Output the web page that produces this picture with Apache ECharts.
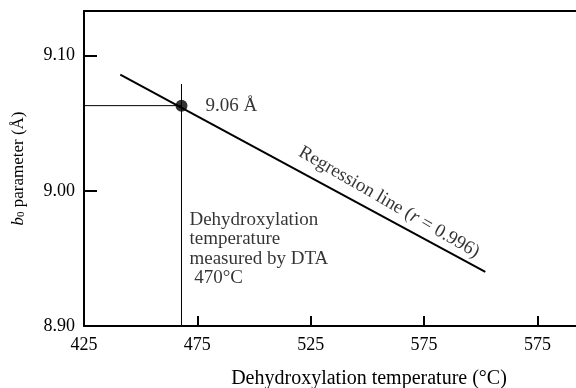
<!DOCTYPE html>
<html>
<head>
<meta charset="utf-8">
<script src="https://cdn.jsdelivr.net/npm/echarts@6/dist/echarts.min.js"></script>
<style>
  html, body { margin: 0; padding: 0; background: #fff; }
  #chart { width: 576px; height: 388px; }
</style>
</head>
<body>
<div id="chart"></div>
<script>
// tick labels as printed (last one really reads 575 in the figure)
const xTickLabels = ["425", "475", "525", "575", "575"]
const yTickLabels = ["8.90", "9.00", "9.10"]

// regression line end points (temperature, b0)
const regressionX = [441, 602]
const regressionY = [9.086, 8.94]

// DTA point
const dtaTemp = 468
const dtaB0 = 9.063
const dtaGuideTop = 9.079

const FONT = "Liberation Serif"

const chart = echarts.init(document.getElementById("chart"))

const xMin = 425
const yMin = 8.9

const option = {
  animation: false,
  backgroundColor: "#fff",
  grid: { left: 84, top: 11, right: 0, bottom: 62, outerBoundsMode: "none" },
  xAxis: [
    {
      type: "value",
      min: xMin,
      max: 642,
      interval: 50,
      name: "Dehydroxylation temperature (°C)",
      nameLocation: "middle",
      nameGap: 43,
      nameTextStyle: { fontFamily: FONT, fontSize: 20, color: "#000", padding: [0, 0, 0, 78] },
      axisLine: { show: true, lineStyle: { color: "#000", width: 2 } },
      axisTick: { show: true, inside: true, length: 10, lineStyle: { color: "#000", width: 2 } },
      splitLine: { show: false },
      axisLabel: {
        margin: 10,
        fontFamily: FONT,
        fontSize: 18,
        color: "#000",
        showMaxLabel: false,
        formatter: (v) => {
          const i = Math.round((v - xMin) / 50)
          return Math.abs(v - (xMin + i * 50)) < 1e-6 && xTickLabels[i] ? xTickLabels[i] : ""
        },
      },
    },
    {
      type: "value",
      position: "top",
      min: xMin,
      max: 642,
      axisLine: { show: true, lineStyle: { color: "#000", width: 2 } },
      axisTick: { show: false },
      axisLabel: { show: false },
      splitLine: { show: false },
    },
  ],
  yAxis: {
    type: "value",
    min: yMin,
    max: 9.133,
    interval: 0.1,
    name: "{i|b}{s|0} parameter (Å)",
    nameLocation: "middle",
    nameRotate: 90,
    nameGap: 57,
    nameTextStyle: {
      fontFamily: FONT,
      fontSize: 17,
      color: "#000",
      rich: {
        i: { fontFamily: FONT, fontSize: 17, fontStyle: "italic", color: "#000" },
        s: { fontFamily: FONT, fontSize: 11, color: "#000", verticalAlign: "bottom", padding: [6, 0, 0, 0] },
      },
    },
    axisLine: { show: true, lineStyle: { color: "#000", width: 2 } },
    axisTick: { show: true, inside: true, length: 13, lineStyle: { color: "#000", width: 2 } },
    splitLine: { show: false },
    axisLabel: {
      margin: 9,
      fontFamily: FONT,
      fontSize: 18,
      color: "#000",
      showMaxLabel: false,
      formatter: (v) => {
        const i = Math.round((v - yMin) / 0.1)
        return Math.abs(v - (yMin + i * 0.1)) < 1e-6 && yTickLabels[i] ? yTickLabels[i] : ""
      },
    },
  },
  series: [
    {
      // regression line
      type: "line",
      data: regressionX.map((x, i) => [x, regressionY[i]]),
      symbol: "none",
      lineStyle: { color: "#000", width: 2 },
    },
    {
      // horizontal guide to the axis
      type: "line",
      data: [[xMin, dtaB0], [dtaTemp, dtaB0]],
      symbol: "none",
      lineStyle: { color: "#000", width: 1 },
    },
    {
      // vertical guide down to the axis
      type: "line",
      data: [[dtaTemp, dtaGuideTop], [dtaTemp, yMin]],
      symbol: "none",
      lineStyle: { color: "#000", width: 1 },
    },
    {
      type: "scatter",
      data: [[dtaTemp, dtaB0]],
      symbolSize: 12,
      itemStyle: { color: "#000" },
      label: {
        show: true,
        position: "right",
        distance: 18,
        formatter: "9.06 Å",
        fontFamily: FONT,
        fontSize: 19,
        color: "#000",
      },
      z: 5,
    },
    {
      // text annotations
      type: "scatter",
      symbolSize: 0,
      silent: true,
      data: [
        {
          value: [559.5, 8.9915],
          label: {
            show: true,
            position: "inside",
            rotate: -30,
            formatter: "Regression line ({i|r} = 0.996)",
            fontFamily: FONT,
            fontSize: 19,
            color: "#000",
            rich: { i: { fontFamily: FONT, fontSize: 19, fontStyle: "italic", color: "#000" } },
          },
        },
        {
          value: [471.5, 8.9858],
          label: {
            show: true,
            position: "right",
            distance: 0,
            align: "left",
            verticalAlign: "top",
            lineHeight: 19.5,
            formatter: "Dehydroxylation\ntemperature\nmeasured by DTA\n 470°C",
            fontFamily: FONT,
            fontSize: 19,
            color: "#000",
          },
        },
      ],
    },
  ],
}

chart.setOption(option)
</script>
</body>
</html>
